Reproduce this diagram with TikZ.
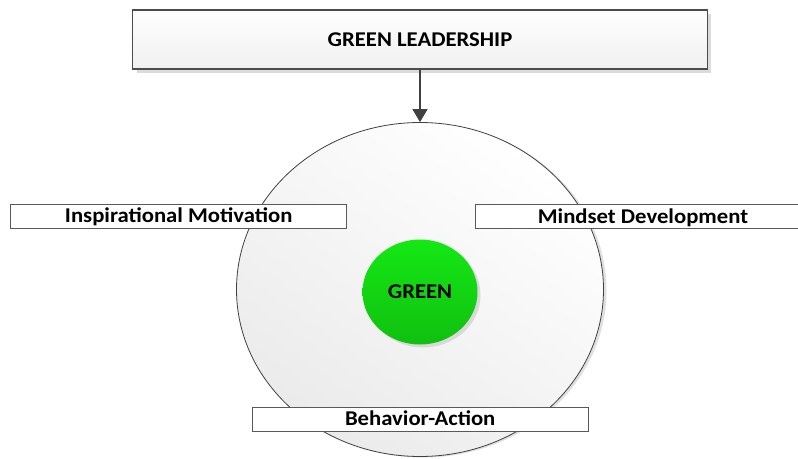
\documentclass[tikz,border=0pt]{standalone}
\usepackage{fontspec}
\setmainfont{Carlito}[FakeStretch=1.08]
\usetikzlibrary{shapes.geometric,shadows,arrows.meta}
\definecolor{grtop}{RGB}{20,232,20}
\definecolor{grbot}{RGB}{16,192,16}
\begin{document}
\begin{tikzpicture}[x=1pt,y=-1pt,
  every node/.style={font=\fontsize{21}{24}\selectfont\bfseries, text=black, inner sep=0pt,
    text height=13.5pt, text depth=0pt},
  topbox/.style={draw=black!70, line width=1.2pt, rectangle, minimum width=574.6pt, minimum height=59pt,
    top color=white, bottom color=black!6,
    drop shadow={shadow xshift=4pt, shadow yshift=-4pt, fill=black!14, opacity=1}},
  labelbox/.style={draw=black!65, line width=0.8pt, fill=white, rectangle, minimum width=336pt, minimum height=24.5pt},
  bigell/.style={draw=black!75, line width=0.8pt, ellipse, minimum width=367pt, minimum height=334pt,
    top color=white, bottom color=black!8, shading angle=-35,
    drop shadow={shadow xshift=3pt, shadow yshift=-1pt, fill=black!12, opacity=1}},
  greenell/.style={ellipse, minimum width=115pt, minimum height=105pt,
    top color=grtop, bottom color=grbot,
    drop shadow={shadow xshift=3pt, shadow yshift=-3pt, fill=black!15, opacity=1}},
  arr/.style={draw=black!75, line width=1.6pt, -{Triangle[length=13pt,width=15pt]}}
]
\useasboundingbox (0,0) rectangle (798,458);
\fill[white] (0,0) rectangle (798,458);
\node[topbox] (lead) at (420,39.5) {GREEN LEADERSHIP};
\node[bigell] (circ) at (420,289.5) {};
\node[greenell] (green) at (420,292) {GREEN};
\node[labelbox] (insp) at (178.7,216.2) {Inspirational Motivation};
\node[labelbox] (mind) at (643,216.5) {Mindset Development};
\node[labelbox] (beh) at (420.2,419.2) {Behavior-Action};
\draw[arr] (lead.south) -- (circ.north);
\end{tikzpicture}
\end{document}
